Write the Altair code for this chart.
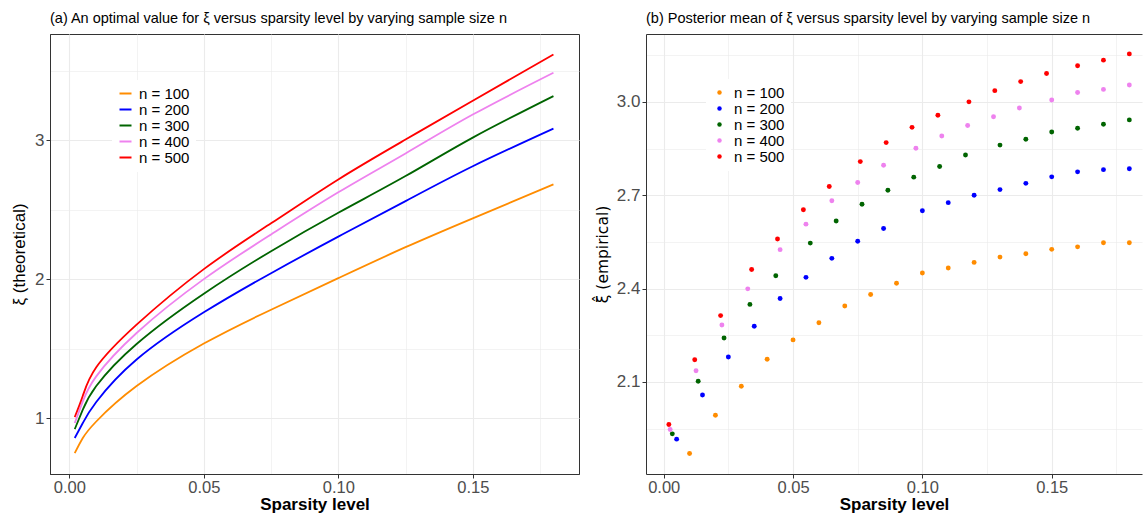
import altair as alt
import pandas as pd

FONT = "Liberation Sans"

series = ["n = 100", "n = 200", "n = 300", "n = 400", "n = 500"]
colors = ["#FF8C00", "#0000FF", "#006400", "#EE82EE", "#FF0000"]

# ---- panel (a): theoretical curves ----
x_theory = [0.002, 0.005, 0.01, 0.025, 0.05, 0.075, 0.10, 0.125, 0.15, 0.18]
xi_theory_100 = [0.747, 0.856, 0.975, 1.230, 1.536, 1.780, 2.007, 2.230, 2.438, 2.682]
xi_theory_200 = [0.856, 0.964, 1.115, 1.421, 1.761, 2.043, 2.306, 2.562, 2.813, 3.084]
xi_theory_300 = [0.920, 1.060, 1.230, 1.533, 1.895, 2.201, 2.478, 2.742, 3.019, 3.318]
xi_theory_400 = [0.964, 1.120, 1.300, 1.612, 2.000, 2.322, 2.625, 2.905, 3.185, 3.486]
xi_theory_500 = [1.007, 1.160, 1.365, 1.672, 2.072, 2.402, 2.718, 3.005, 3.285, 3.617]

# ---- panel (b): empirical posterior means ----
x_emp_100 = [0.01, 0.02, 0.03, 0.04, 0.05, 0.06, 0.07, 0.08, 0.09, 0.10, 0.11, 0.12,
             0.13, 0.14, 0.15, 0.16, 0.17, 0.18]
xi_emp_100 = [1.870, 1.993, 2.086, 2.173, 2.235, 2.290, 2.344, 2.381, 2.417, 2.450,
              2.466, 2.484, 2.501, 2.512, 2.526, 2.534, 2.547, 2.547]
x_emp_200 = [0.005, 0.015, 0.025, 0.035, 0.045, 0.055, 0.065, 0.075, 0.085, 0.10,
             0.11, 0.12, 0.13, 0.14, 0.15, 0.16, 0.17, 0.18]
xi_emp_200 = [1.916, 2.058, 2.180, 2.279, 2.368, 2.436, 2.497, 2.552, 2.593, 2.650,
              2.676, 2.700, 2.718, 2.738, 2.759, 2.775, 2.782, 2.785]
x_emp_300 = [0.00333, 0.01333, 0.02333, 0.03333, 0.04333, 0.05667, 0.06667, 0.07667,
             0.08667, 0.09667, 0.10667, 0.11667, 0.13, 0.14, 0.15, 0.16, 0.17, 0.18]
xi_emp_300 = [1.933, 2.102, 2.241, 2.349, 2.441, 2.546, 2.617, 2.671, 2.716, 2.758,
              2.792, 2.829, 2.861, 2.880, 2.903, 2.915, 2.928, 2.942]
x_emp_400 = [0.0025, 0.0125, 0.0225, 0.0325, 0.045, 0.055, 0.065, 0.075, 0.085,
             0.0975, 0.1075, 0.1175, 0.1275, 0.1375, 0.15, 0.16, 0.17, 0.18]
xi_emp_400 = [1.947, 2.136, 2.283, 2.399, 2.525, 2.607, 2.682, 2.741, 2.796, 2.851,
              2.890, 2.924, 2.952, 2.980, 3.006, 3.030, 3.040, 3.054]
x_emp_500 = [0.002, 0.012, 0.022, 0.034, 0.044, 0.054, 0.064, 0.076, 0.086, 0.096,
             0.106, 0.118, 0.128, 0.138, 0.148, 0.16, 0.17, 0.18]
xi_emp_500 = [1.963, 2.171, 2.313, 2.461, 2.559, 2.653, 2.728, 2.808, 2.869, 2.918,
              2.957, 3.000, 3.036, 3.065, 3.091, 3.116, 3.134, 3.154]

# ---- build tables ----
theory_vals = [xi_theory_100, xi_theory_200, xi_theory_300, xi_theory_400, xi_theory_500]
rows = []
for s, vals in zip(series, theory_vals):
    for x, v in zip(x_theory, vals):
        rows.append({"x": x, "xi": v, "n": s})
line_df = pd.DataFrame(rows)

emp_x = [x_emp_100, x_emp_200, x_emp_300, x_emp_400, x_emp_500]
emp_v = [xi_emp_100, xi_emp_200, xi_emp_300, xi_emp_400, xi_emp_500]
rows = []
for s, xs, vs in zip(series, emp_x, emp_v):
    for x, v in zip(xs, vs):
        rows.append({"x": x, "xi": v, "n": s})
pt_df = pd.DataFrame(rows)

# ---- axis helpers ----
x_grid = [0, 0.025, 0.05, 0.075, 0.10, 0.125, 0.15, 0.175]
x_major = "abs(datum.value*20 - round(datum.value*20)) < 0.001"


def cond(test, yes, no):
    return {"condition": {"test": test, "value": yes}, "value": no}


def x_axis():
    return alt.Axis(
        values=x_grid,
        labelExpr=f"({x_major}) ? format(datum.value, '.2f') : ''",
        tickColor=cond(x_major, "#333333", "transparent"),
        gridWidth=cond(x_major, 1.1, 0.6),
        title="Sparsity level",
        titleFontWeight="bold",
        labelOverlap=False,
        labelFlush=False,
    )


def y_axis(values, test, fmt, title, tfont=FONT, tsize=17):
    return alt.Axis(
        values=values,
        labelExpr=f"({test}) ? format(datum.value, '{fmt}') : ''",
        tickColor=cond(test, "#333333", "transparent"),
        gridWidth=cond(test, 1.1, 0.6),
        title=title,
        titleFont=tfont,
        titleFontSize=tsize,
        titleFontWeight="normal",
        labelOverlap=False,
        labelFlush=False,
    )


ly_major = "abs(datum.value - round(datum.value)) < 0.001"
ry_major = "abs((datum.value-2.1)/0.3 - round((datum.value-2.1)/0.3)) < 0.001"

# ---- left panel ----
left = alt.Chart(line_df).mark_line(strokeWidth=1.8, interpolate="natural", clip=True).encode(
    x=alt.X("x:Q", scale=alt.Scale(domain=[-0.0072, 0.1895], nice=False, zero=False), axis=x_axis()),
    y=alt.Y("xi:Q", scale=alt.Scale(domain=[0.597, 3.765], nice=False, zero=False),
            axis=y_axis([1, 1.5, 2, 2.5, 3, 3.5], ly_major, ".0f", "ξ (theoretical)")),
    color=alt.Color("n:N", scale=alt.Scale(domain=series, range=colors), sort=series,
                    legend=alt.Legend(orient="none", legendX=62, legendY=46, title=None,
                                      fillColor="white", padding=6, labelFontSize=15,
                                      symbolType="stroke", symbolSize=144, symbolStrokeWidth=2,
                                      labelOffset=6, rowPadding=0, labelFont=FONT,
                                      labelColor="#000000")),
).properties(
    width=529, height=440,
    title=alt.TitleParams("(a) An optimal value for ξ versus sparsity level by varying sample size n",
                          anchor="start", frame="group", fontSize=14.5, fontWeight="normal",
                          font=FONT, color="#000000", offset=8),
)

# ---- right panel ----
pts = alt.Chart(pt_df).mark_circle(size=24, opacity=1).encode(
    x=alt.X("x:Q", scale=alt.Scale(domain=[-0.00684, 0.1849], nice=False, zero=False), axis=x_axis()),
    y=alt.Y("xi:Q", scale=alt.Scale(domain=[1.804, 3.218], nice=False, zero=False),
            axis=y_axis([1.95, 2.1, 2.25, 2.4, 2.55, 2.7, 2.85, 3.0, 3.15], ry_major, ".1f",
                        "ξ̂ (empirical)", tfont="DejaVu Sans", tsize=15.5)),
    color=alt.Color("n:N", scale=alt.Scale(domain=series, range=colors), sort=series,
                    legend=alt.Legend(orient="none", legendX=60, legendY=45, title=None,
                                      fillColor="white", padding=6, labelFontSize=15,
                                      symbolType="circle", symbolSize=20,
                                      labelOffset=7, rowPadding=0, labelFont=FONT,
                                      labelColor="#000000")),
)

top_border = alt.Chart(pt_df).mark_circle(opacity=0, size=1).encode(
    x=alt.X("x:Q", axis=alt.Axis(orient="top", labels=False, ticks=False, grid=False,
                                 title=None, domain=True, domainColor="#333333")),
)

right = alt.layer(pts, top_border).resolve_axis(x="independent").properties(
    width=496, height=440,
    view=alt.ViewBackground(stroke="transparent"),
    title=alt.TitleParams("(b) Posterior mean of ξ versus sparsity level by varying sample size n",
                          anchor="start", frame="group", fontSize=14.5, fontWeight="normal",
                          font=FONT, color="#000000", offset=8),
)

chart = alt.hconcat(left, right, spacing=14).resolve_scale(color="independent").properties(
    padding={"left": 10, "top": 10, "right": 0, "bottom": 0},
).configure_view(
    stroke="#333333", strokeWidth=1
).configure_axis(
    labelFont=FONT, labelFontSize=17, labelColor="#4d4d4d", labelPadding=2,
    titleFont=FONT, titleFontSize=17, titleColor="#000000",
    tickSize=4, tickWidth=1, domainColor="#333333", domainWidth=1,
    gridColor="#ebebeb",
).configure_axisY(
    titlePadding=6,
).configure_axisX(
    titlePadding=1, labelPadding=1, labelFontSize=16.5,
)

chart.save("out.html", embed_options={"renderer": "svg", "actions": False})
